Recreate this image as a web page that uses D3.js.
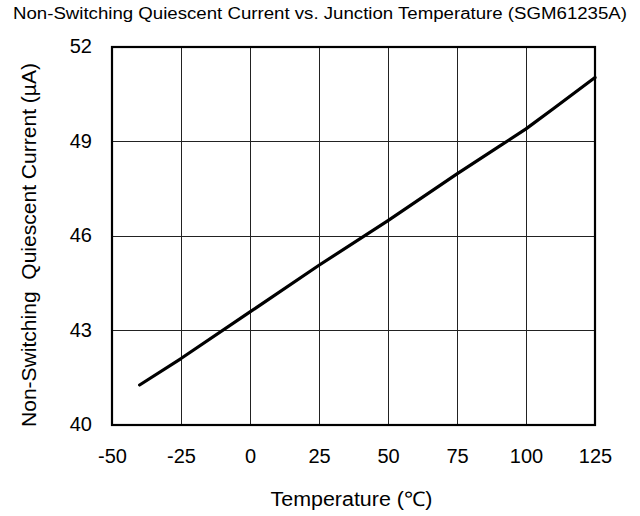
<!DOCTYPE html>
<html><head><meta charset="utf-8">
<script src="https://cdn.jsdelivr.net/npm/d3@7"></script>
<style>body{margin:0;background:#fff}svg{display:block}text{font-family:Arial,"Liberation Sans",sans-serif;fill:#000}</style>
</head><body>
<svg id="c" width="640" height="516"></svg>
<script>
const temps = [-40, -25, 0, 25, 50, 75, 90, 100, 110, 125];
const current = [41.27, 42.11, 43.59, 45.07, 46.49, 47.97, 48.83, 49.40, 50.05, 51.03];
const xTicks = [-50, -25, 0, 25, 50, 75, 100, 125];
const yTicks = [40, 43, 46, 49, 52];
const title = "Non-Switching Quiescent Current vs. Junction Temperature (SGM61235A)";
const xTitle = "Temperature (\u2103)";
const yTitle = "Non-Switching  Quiescent Current (\u00b5A)";

const svg = d3.select("#c");
const L = 112, R = 595, T = 47, B = 425;
const x = d3.scaleLinear().domain([-50, 125]).range([L, R]);
const y = d3.scaleLinear().domain([40, 52]).range([B, T]);
const fmt = d => String(d);

// grid
svg.append("g").selectAll("line").data(xTicks).join("line")
  .attr("x1", d => x(d)).attr("x2", d => x(d)).attr("y1", T).attr("y2", B)
  .attr("stroke", "#222").attr("stroke-width", 1).attr("shape-rendering", "crispEdges");
svg.append("g").selectAll("line").data(yTicks).join("line")
  .attr("y1", d => y(d)).attr("y2", d => y(d)).attr("x1", L).attr("x2", R)
  .attr("stroke", "#222").attr("stroke-width", 1).attr("shape-rendering", "crispEdges");

// axes labels
const xa = svg.append("g").attr("transform", `translate(0,${B})`)
  .call(d3.axisBottom(x).tickValues(xTicks).tickSize(0).tickPadding(24).tickFormat(fmt));
xa.select(".domain").remove();
xa.selectAll("text").attr("font-size", 20).style("font-family", "Arial, 'Liberation Sans', sans-serif").attr("fill", "#000");

const ya = svg.append("g").attr("transform", `translate(${L},0)`)
  .call(d3.axisLeft(y).tickValues(yTicks).tickSize(0).tickPadding(20).tickFormat(fmt));
ya.select(".domain").remove();
ya.selectAll("text").attr("font-size", 20).attr("dy", "0.28em").style("font-family", "Arial, 'Liberation Sans', sans-serif").attr("fill", "#000");

// frame
svg.append("rect").attr("x", L).attr("y", T).attr("width", R - L).attr("height", B - T)
  .attr("fill", "none").attr("stroke", "#000").attr("stroke-width", 2.2);

// line
svg.append("path").datum(temps.map((t, i) => [t, current[i]]))
  .attr("d", d3.line().x(d => x(d[0])).y(d => y(d[1])))
  .attr("fill", "none").attr("stroke", "#000").attr("stroke-width", 3.2)
  .attr("stroke-linecap", "round").attr("stroke-linejoin", "round");

// titles
svg.append("text").attr("x", 320).attr("y", 19).attr("text-anchor", "middle")
  .attr("font-size", 16).attr("textLength", 614).attr("lengthAdjust", "spacingAndGlyphs").text(title);
svg.append("text").attr("x", 351.5).attr("y", 506).attr("text-anchor", "middle")
  .attr("font-size", 20).attr("textLength", 162).attr("lengthAdjust", "spacingAndGlyphs").text(xTitle);
svg.append("text").attr("transform", "translate(36,245) rotate(-90)").attr("text-anchor", "middle")
  .attr("font-size", 20).attr("xml:space", "preserve").attr("textLength", 364).attr("lengthAdjust", "spacingAndGlyphs").text(yTitle);
</script>
</body></html>
